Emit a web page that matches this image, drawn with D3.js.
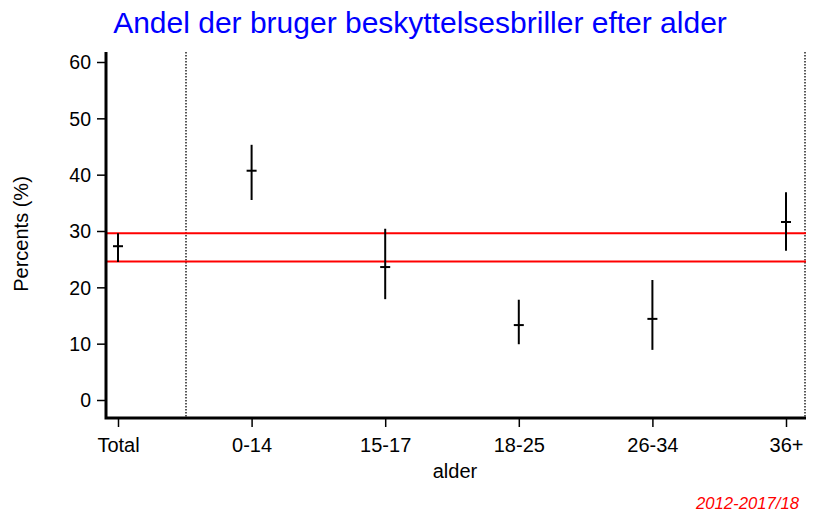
<!DOCTYPE html>
<html>
<head>
<meta charset="utf-8">
<script src="https://cdn.jsdelivr.net/npm/d3@7"></script>
<style>
  body { margin: 0; background: #fff; }
  text { font-family: "Liberation Sans", Arial, sans-serif; }
</style>
</head>
<body>
<script>
const w = 813;
const h = 515;

// data
const categories = ["Total", "0-14", "15-17", "18-25", "26-34", "36+"];
const means = [27.3, 40.7, 23.6, 13.3, 14.4, 31.6];
const lower = [24.5, 35.5, 17.9, 9.9, 8.9, 26.5];
const upper = [29.6, 45.3, 30.4, 17.8, 21.3, 36.9];
const refLines = [29.6, 24.6];   // confidence band of the total
const yTicks = [0, 10, 20, 30, 40, 50, 60];

const plotLeft = 106, plotRight = 806, plotTop = 52, plotBottom = 418;

const x = d3.scalePoint()
  .domain(categories)
  .range([118, 786]);

const y = d3.scaleLinear()
  .domain([0, 60])
  .range([400, 62]);

const svg = d3.select("body")
  .append("svg")
  .attr("width", w)
  .attr("height", h);

// title
svg.append("text")
  .attr("x", 420)
  .attr("y", 33)
  .attr("text-anchor", "middle")
  .style("font-size", "30px")
  .style("fill", "#0000ff")
  .text("Andel der bruger beskyttelsesbriller efter alder");

// dotted separators
svg.selectAll("line.sep")
  .data([186, plotRight - 1])
  .enter()
  .append("line")
  .attr("class", "sep")
  .attr("x1", d => d).attr("x2", d => d)
  .attr("y1", plotTop).attr("y2", plotBottom)
  .style("stroke", "#000")
  .style("stroke-width", 1.3)
  .style("stroke-dasharray", "1.5,1.5");

// red reference lines
svg.selectAll("line.ref")
  .data(refLines)
  .enter()
  .append("line")
  .attr("class", "ref")
  .attr("x1", plotLeft).attr("x2", plotRight)
  .attr("y1", d => y(d)).attr("y2", d => y(d))
  .style("stroke", "#ff0000")
  .style("stroke-width", 2);

// y axis
const yAxis = svg.append("g")
  .attr("transform", "translate(" + plotLeft + ",0)")
  .call(d3.axisLeft(y).tickValues(yTicks).tickSize(9).tickPadding(6));
yAxis.select(".domain").remove();
yAxis.selectAll(".tick line").style("stroke-width", 1.5);
yAxis.selectAll(".tick text")
  .style("font-size", "19.5px")
  .style("font-family", "Liberation Sans, Arial, sans-serif")
  .attr("dy", "0.35em");

// x axis
const xAxis = svg.append("g")
  .attr("transform", "translate(0," + plotBottom + ")")
  .call(d3.axisBottom(x).tickSize(9).tickPadding(11));
xAxis.select(".domain").remove();
xAxis.selectAll(".tick line").style("stroke-width", 1.5);
xAxis.selectAll(".tick text")
  .style("font-size", "20px")
  .style("font-family", "Liberation Sans, Arial, sans-serif");

// thick axis lines
svg.append("path")
  .attr("d", "M" + plotLeft + "," + plotTop + "V" + plotBottom + "H" + plotRight)
  .style("fill", "none")
  .style("stroke", "#000")
  .style("stroke-width", 3);

// axis titles
svg.append("text")
  .attr("transform", "translate(28,234) rotate(-90)")
  .attr("text-anchor", "middle")
  .style("font-size", "20px")
  .text("Percents (%)");

svg.append("text")
  .attr("x", 455)
  .attr("y", 478)
  .attr("text-anchor", "middle")
  .style("font-size", "20px")
  .text("alder");

// footer
svg.append("text")
  .attr("x", 799)
  .attr("y", 509)
  .attr("text-anchor", "end")
  .style("font-size", "16.7px")
  .style("font-style", "italic")
  .style("fill", "#ff0000")
  .text("2012-2017/18");

// error bars
const bars = svg.append("g");
bars.selectAll("line.ci")
  .data(categories)
  .enter()
  .append("line")
  .attr("class", "ci")
  .attr("x1", d => x(d)).attr("x2", d => x(d))
  .attr("y1", (d, i) => y(upper[i]))
  .attr("y2", (d, i) => y(lower[i]))
  .style("stroke", "#000")
  .style("stroke-width", 2);

bars.selectAll("line.mean")
  .data(categories)
  .enter()
  .append("line")
  .attr("class", "mean")
  .attr("x1", d => x(d) - 5).attr("x2", d => x(d) + 5)
  .attr("y1", (d, i) => y(means[i]))
  .attr("y2", (d, i) => y(means[i]))
  .style("stroke", "#000")
  .style("stroke-width", 2);
</script>
</body>
</html>
